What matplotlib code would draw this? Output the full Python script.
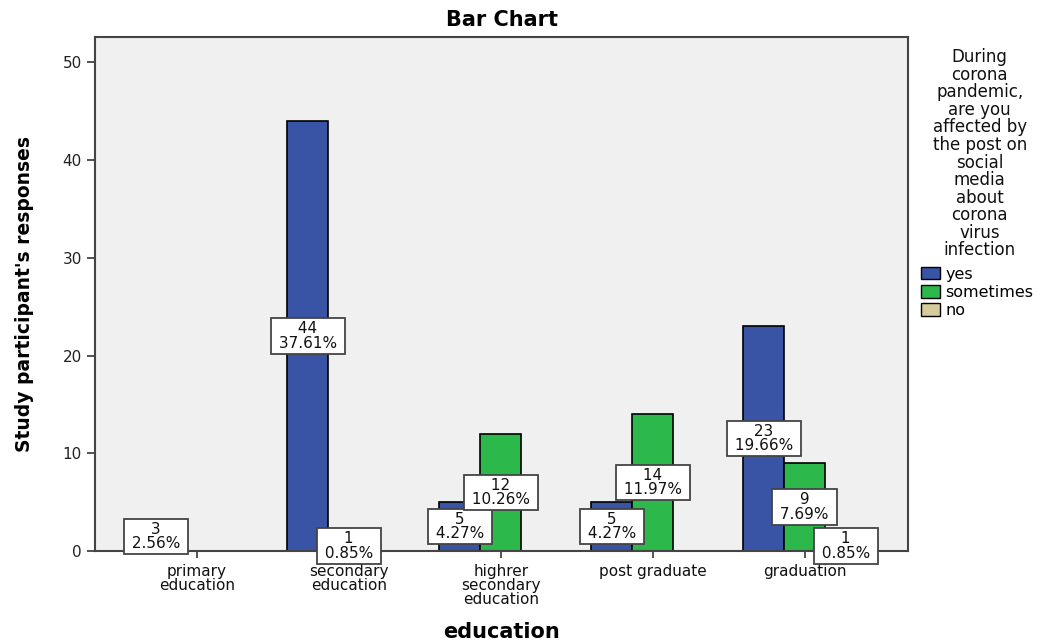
import matplotlib
matplotlib.use('Agg')
import matplotlib.pyplot as plt
from matplotlib.patches import Patch
import numpy as np

categories = ['primary\neducation', 'secondary\neducation', 'highrer\nsecondary\neducation',
              'post graduate', 'graduation']
series = ['yes', 'sometimes', 'no']
yes = [3, 44, 5, 5, 23]
sometimes = [0, 1, 12, 14, 9]
no = [0, 0, 0, 0, 1]
colors = ['#3953a5', '#2db84b', '#d4cc9a']

legend_title = ('During\ncorona\npandemic,\nare you\naffected by\nthe post on\nsocial\nmedia\n'
                'about\ncorona\nvirus\ninfection')

values = [yes, sometimes, no]
total = sum(sum(v) for v in values)

plt.rcParams['font.family'] = ['DejaVu Sans']

fig = plt.figure(figsize=(10.49, 6.41), dpi=100)
ax = fig.add_axes([0.0906, 0.1404, 0.775, 0.802])
ax.set_facecolor('#f0f0f0')

x = np.arange(len(categories))
w = 0.27
for i, (name, vals, c) in enumerate(zip(series, values, colors)):
    xs = x + (i - 1) * w
    ax.bar(xs, vals, width=w, color=c, edgecolor='black', linewidth=1.2, zorder=2)
    for xi, v in zip(xs, vals):
        if v == 0:
            continue
        pct = v / total * 100
        ax.text(xi, v / 2, ' %d \n %.2f%% ' % (v, pct), ha='center', va='center',
                fontsize=11, linespacing=0.95, color='#111111', zorder=4, clip_on=False,
                bbox=dict(boxstyle='square,pad=0.2', fc='white', ec='#444444', lw=1.3))

ax.set_xlim(-0.67, 4.68)
ax.set_ylim(0, 52.6)
ax.set_yticks([0, 10, 20, 30, 40, 50])
ax.set_xticks(x)
ax.set_xticklabels(categories, fontsize=11, linespacing=0.92, color='#111111')
ax.tick_params(axis='y', labelsize=11, labelcolor='#222222', length=6, width=1.3, color='#444444')
ax.tick_params(axis='x', length=5, width=1.3, color='#444444', pad=4)
for s in ax.spines.values():
    s.set_color('#444444')
    s.set_linewidth(1.5)

ax.set_title('Bar Chart', fontsize=15, fontweight='bold', pad=8)
ax.set_xlabel('education', fontsize=15, fontweight='bold', labelpad=11)
ax.set_ylabel("Study participant's responses", fontsize=13.5, fontweight='bold')
ax.yaxis.set_label_coords(-0.075, 0.5)

fig.text(0.934, 0.925, legend_title, ha='center', va='top', fontsize=12, linespacing=0.97,
         color='#111111')
handles = [Patch(facecolor=c, edgecolor='black', label=n) for n, c in zip(series, colors)]
fig.legend(handles=handles, loc='upper left', bbox_to_anchor=(0.872, 0.594), frameon=False,
           fontsize=11.5, handlelength=1.2, handleheight=0.85, handletextpad=0.3,
           labelspacing=0.2, borderaxespad=0)

fig.savefig('out.png', dpi=100)
